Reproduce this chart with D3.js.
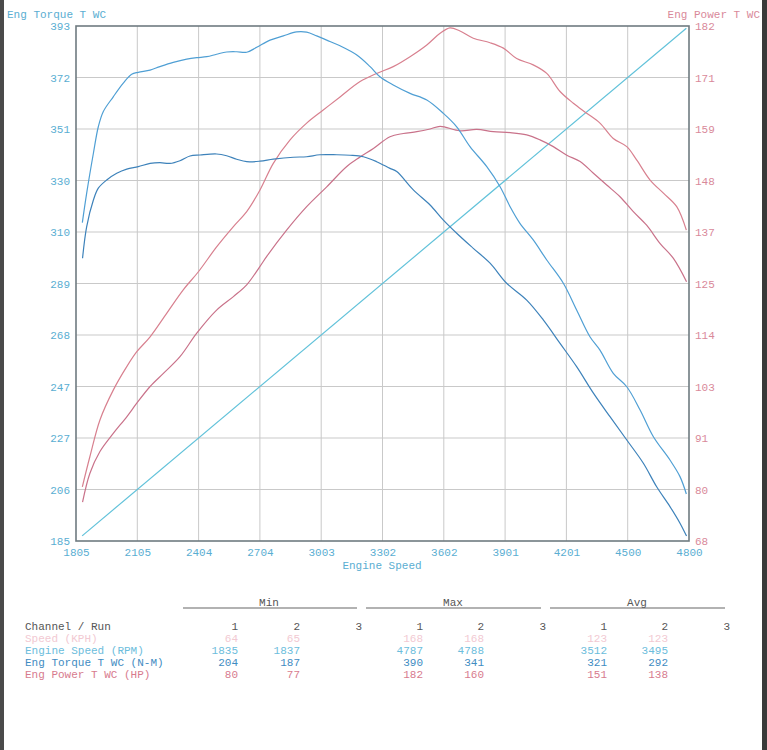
<!DOCTYPE html>
<html>
<head>
<meta charset="utf-8">
<script src="https://cdn.jsdelivr.net/npm/d3@7"></script>
<style>
  body { margin: 0; background: #fff; }
  text { font-family: "Courier New", "Liberation Mono", monospace; }
</style>
</head>
<body>
<div id="dyno"></div>
<script>

// axis tick labels (as printed on the sheet)
const rpmLabels = ["1805","2105","2404","2704","3003","3302","3602","3901","4201","4500","4800"]
const torqueLabels = ["185","206","227","247","268","289","310","330","351","372","393"]
const powerLabels = ["68","80","91","103","114","125","137","148","159","171","182"]

// run 1 torque (N-M)
const t1Rpm = [1836,1857,1890,1914,1938,1987,2036,2077,2109,2167,2215,2280,2346,2395,2444,2492,2541,2590,2639,2688,2753,2818,2883,2932,2981,3030,3095,3177,3242,3290,3355,3437,3519,3600,3665,3730,3812,3877,3926,3974,4039,4105,4186,4251,4316,4365,4430,4496,4561,4626,4707,4756,4787]
const t1Val = [313.6,325.4,341.6,352.3,358.4,364.4,369.9,373.5,374.3,375.2,376.6,378.3,379.6,380.2,380.6,381.6,382.5,382.6,382.4,384.4,387.3,389,390.6,390.5,389,387.3,385,381.3,376.6,372.5,369.2,365.8,363.1,357.7,352.3,344.3,336.2,328.1,320,313.3,306.6,298.5,289.1,278.3,267.5,262.1,252.7,247.3,237.9,227.1,217.7,211,204]

// run 2 torque (N-M)
const t2Rpm = [1837,1857,1890,1914,1955,2004,2053,2109,2167,2215,2264,2313,2362,2411,2492,2541,2590,2639,2704,2769,2867,2932,2997,3079,3144,3209,3274,3339,3372,3453,3535,3600,3665,3746,3828,3909,4007,4088,4170,4251,4333,4414,4496,4577,4642,4707,4756,4788]
const t2Val = [299.2,311.9,322.7,327.5,330.8,333.5,335.2,336.2,337.5,337.8,337.5,338.6,340.5,340.9,341.3,340.6,339.2,338.2,338.4,339.2,340,340.2,341,341,340.8,340.2,338.2,335.5,334.2,326.8,320.7,314.6,309.3,303.2,297.2,289.1,282.3,274.3,264.8,255.4,244.7,235.2,225.8,216.4,206.9,198.9,192.2,187]

// run 1 power (HP)
const p1Rpm = [1836,1873,1922,1987,2053,2102,2167,2248,2329,2403,2492,2574,2639,2704,2769,2851,2932,3013,3095,3193,3274,3355,3437,3519,3584,3632,3681,3746,3828,3893,3958,4039,4105,4170,4235,4300,4365,4430,4496,4545,4610,4675,4740,4787]
const p1Val = [80,86.7,94.8,101.4,106.6,109.9,113.2,118.4,123.6,127.6,133.1,137.6,140.9,145.7,151.6,156.8,160.5,163.4,166.3,169.7,171.5,173,175.2,177.8,180.4,181.6,180.9,179.3,178.3,177.1,174.8,173.4,171.5,167.5,164.9,162.7,160.5,157.1,155.3,152.3,147.9,145,142,136.8]

// run 2 power (HP)
const p2Rpm = [1837,1873,1922,1987,2053,2102,2167,2232,2313,2395,2492,2574,2639,2704,2737,2834,2932,3030,3128,3193,3258,3339,3404,3470,3535,3584,3681,3763,3844,3926,4007,4072,4137,4203,4268,4333,4398,4463,4528,4593,4658,4723,4788]
const p2Val = [76.6,83,87.8,91.8,95.5,98.5,102.2,105.1,108.8,114,119.1,122.1,124.7,128.8,131,136.8,142,146.4,150.9,153,154.9,157.5,158.2,158.6,159.2,159.8,158.8,159.1,158.6,158.4,157.9,156.8,155.3,153.4,152,149.4,146.8,144.2,140.9,137.9,133.9,130.6,125.4]

// engine speed trace (RPM against RPM)
const speedRpm = [1835,4787]

// summary table
const tableHead = ["Min","Max","Avg"]
const channels = ["Speed (KPH)","Engine Speed (RPM)","Eng Torque T WC (N-M)","Eng Power T WC (HP)"]
const minVals = [["64","65"],["1835","1837"],["204","187"],["80","77"]]
const maxVals = [["168","168"],["4787","4788"],["390","341"],["182","160"]]
const avgVals = [["123","123"],["3512","3495"],["321","292"],["151","138"]]

const colTorque = "#5aaed2", colPower = "#d9899a", colSpeed = "#62c2da"
const rowColors = ["#f2c9d2", "#6cbddc", "#3f8cc2", "#d77b8e"]

const W = 767, H = 750
const plot = {left: 76, right: 689, top: 26, bottom: 541}

const svg = d3.select("#dyno").append("svg")
  .attr("width", W).attr("height", H)

svg.append("rect").attr("width", W).attr("height", H).attr("fill", "#fff")
// scanner edges
svg.append("rect").attr("x", 0).attr("y", 0).attr("width", 4).attr("height", H).attr("fill", "#4a4a4a")
svg.append("rect").attr("x", 762).attr("y", 0).attr("width", 5).attr("height", H).attr("fill", "#3a3a3a")

const x = d3.scaleLinear().domain([1805, 4800]).range([plot.left, plot.right])
const yT = d3.scaleLinear().domain([185, 393]).range([plot.bottom, plot.top])
const yP = d3.scaleLinear().domain([68, 182]).range([plot.bottom, plot.top])
const yR = d3.scaleLinear().domain([1805, 4800]).range([plot.bottom, plot.top])

const steps = d3.range(11)
const xTicks = steps.map(i => 1805 + i * 299.5)
const tTicks = steps.map(i => 185 + i * 20.8)
const pTicks = steps.map(i => 68 + i * 11.4)

// grid
const grid = svg.append("g").attr("stroke", "#c9c9c9").attr("stroke-width", 1)
grid.selectAll(".gx").data(xTicks.slice(1, -1)).join("line")
  .attr("x1", d => x(d)).attr("x2", d => x(d))
  .attr("y1", plot.top).attr("y2", plot.bottom)
grid.selectAll(".gy").data(tTicks.slice(1, -1)).join("line")
  .attr("y1", d => yT(d)).attr("y2", d => yT(d))
  .attr("x1", plot.left).attr("x2", plot.right)

// axes
const fontSize = "11px"
const gl = svg.append("g").attr("transform", `translate(${plot.left},0)`)
  .call(d3.axisLeft(yT).tickValues(tTicks).tickSize(0).tickPadding(6).tickFormat((d, i) => torqueLabels[i]))
const gr = svg.append("g").attr("transform", `translate(${plot.right},0)`)
  .call(d3.axisRight(yP).tickValues(pTicks).tickSize(0).tickPadding(6).tickFormat((d, i) => powerLabels[i]))
const gb = svg.append("g").attr("transform", `translate(0,${plot.bottom})`)
  .call(d3.axisBottom(x).tickValues(xTicks).tickSize(0).tickPadding(7).tickFormat((d, i) => rpmLabels[i]))
;[gl, gr, gb].forEach(g => { g.select(".domain").remove(); g.selectAll("text").attr("font-size", fontSize).attr("font-family", null) })
gl.selectAll("text").attr("fill", colTorque)
gr.selectAll("text").attr("fill", colPower)
gb.selectAll("text").attr("fill", colTorque)

// frame
svg.append("rect")
  .attr("x", plot.left).attr("y", plot.top)
  .attr("width", plot.right - plot.left).attr("height", plot.bottom - plot.top)
  .attr("fill", "none").attr("stroke", "#6f7b80").attr("stroke-width", 1.6)

// axis titles
svg.append("text").attr("x", 7).attr("y", 18).attr("font-size", fontSize).attr("fill", colTorque).text("Eng Torque T WC")
svg.append("text").attr("x", 760).attr("y", 18).attr("text-anchor", "end").attr("font-size", fontSize).attr("fill", colPower).text("Eng Power T WC")
svg.append("text").attr("x", x(3300)).attr("y", 569).attr("text-anchor", "middle").attr("font-size", fontSize).attr("fill", colTorque).text("Engine Speed")

// traces
const line = (xs, ys, yScale) => d3.line()
  .x((d, i) => x(xs[i])).y((d, i) => yScale(ys[i]))
  .curve(d3.curveCatmullRom.alpha(0.5))(xs)

const traces = [
  {xs: speedRpm, ys: speedRpm, y: yR, c: colSpeed},
  {xs: p1Rpm, ys: p1Val, y: yP, c: "#d8808f"},
  {xs: p2Rpm, ys: p2Val, y: yP, c: "#c9728a"},
  {xs: t1Rpm, ys: t1Val, y: yT, c: "#4f9fd4"},
  {xs: t2Rpm, ys: t2Val, y: yT, c: "#3d82ba"}
]
svg.append("g").selectAll("path").data(traces).join("path")
  .attr("d", d => line(d.xs, d.ys, d.y))
  .attr("fill", "none").attr("stroke", d => d.c).attr("stroke-width", 1.2)

// summary table
const tbl = svg.append("g").attr("font-size", fontSize)
const groupCenters = [269, 453, 637]
const groupLines = [[183, 357], [366, 541], [550, 725]]
const colRight = [[238, 300, 362], [423, 484, 546], [607, 668, 730]]
const rowY = [630, 642, 654, 666, 678]

tableHead.forEach((h, g) => {
  tbl.append("text").attr("x", groupCenters[g]).attr("y", 606).attr("text-anchor", "middle").attr("fill", "#555").text(h)
  tbl.append("line").attr("x1", groupLines[g][0]).attr("x2", groupLines[g][1])
    .attr("y1", 608).attr("y2", 608).attr("stroke", "#666").attr("stroke-width", 1.2)
  colRight[g].forEach((cx, r) => {
    tbl.append("text").attr("x", cx).attr("y", rowY[0]).attr("text-anchor", "end").attr("fill", "#555").text(r + 1)
  })
})
tbl.append("text").attr("x", 25).attr("y", rowY[0]).attr("fill", "#555").text("Channel / Run")

const groupVals = [minVals, maxVals, avgVals]
channels.forEach((ch, r) => {
  tbl.append("text").attr("x", 25).attr("y", rowY[r + 1]).attr("fill", rowColors[r]).text(ch)
  groupVals.forEach((vals, g) => {
    vals[r].forEach((v, k) => {
      tbl.append("text").attr("x", colRight[g][k]).attr("y", rowY[r + 1])
        .attr("text-anchor", "end").attr("fill", rowColors[r]).text(v)
    })
  })
})

</script>
</body>
</html>
